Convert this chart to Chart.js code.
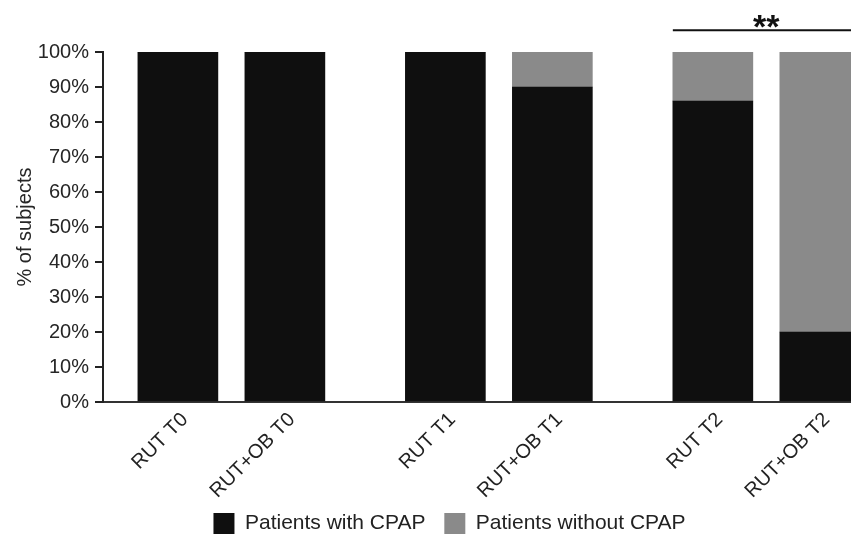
<!DOCTYPE html>
<html>
<head>
<meta charset="utf-8">
<script src="https://cdn.jsdelivr.net/npm/chart.js@4/dist/chart.umd.min.js"></script>
<style>
  html, body { margin: 0; padding: 0; background: #fff; overflow: hidden; }
  #wrap { width: 851px; height: 534px; overflow: hidden; }
</style>
</head>
<body>
<div id="wrap"><canvas id="chart" width="899" height="544"></canvas></div>
<script>
// Chart data
const categories = ['RUT T0', 'RUT+OB T0', 'RUT T1', 'RUT+OB T1', 'RUT T2', 'RUT+OB T2'];
const withCpap = [100, 100, 100, 90, 86, 20];
const withoutCpap = [0, 0, 0, 10, 14, 80];
const yTicks = [0, 10, 20, 30, 40, 50, 60, 70, 80, 90, 100];
const seriesNames = ['Patients with CPAP', 'Patients without CPAP'];

Chart.defaults.font.family = "'Liberation Sans', Arial, Helvetica, sans-serif";
Chart.defaults.font.size = 20;
Chart.defaults.color = '#262626';

// bars come in pairs, a wider gap between the pairs
const slot = i => Math.floor(i / 2) * 5 + (i % 2) * 2;
const toPoints = arr => arr.map((v, i) => ({ x: slot(i), y: v }));

// "**" bracket over the last pair
const significance = {
    id: 'significance',
    afterDatasetsDraw(chart) {
        const { ctx, scales: { x, y } } = chart;
        const x1 = x.getPixelForValue(slot(4)) - 40;
        const x2 = x.getPixelForValue(slot(5)) + 40;
        const yy = y.getPixelForValue(106.2);
        ctx.save();
        ctx.strokeStyle = '#111';
        ctx.lineWidth = 2;
        ctx.beginPath();
        ctx.moveTo(x1, yy);
        ctx.lineTo(x2, yy);
        ctx.stroke();
        ctx.fillStyle = '#111';
        ctx.font = "bold 34px 'Liberation Sans', Arial, sans-serif";
        ctx.textAlign = 'center';
        ctx.textBaseline = 'alphabetic';
        ctx.fillText('**', (x1 + x2) / 2, yy + 8);
        ctx.restore();
    }
};

new Chart(document.getElementById('chart'), {
    type: 'bar',
    data: {
        datasets: [
            {
                label: seriesNames[0] + ' ',
                data: toPoints(withCpap),
                backgroundColor: '#0f0f0f',
                barThickness: 80
            },
            {
                label: seriesNames[1],
                data: toPoints(withoutCpap),
                backgroundColor: '#8a8a8a',
                barThickness: 80
            }
        ]
    },
    options: {
        responsive: false,
        animation: false,
        layout: {
            padding: { top: 52, left: 0, right: 0, bottom: 0 }
        },
        plugins: {
            legend: {
                position: 'bottom',
                labels: {
                    boxWidth: 21,
                    boxHeight: 21,
                    padding: 13,
                    color: '#222',
                    font: { size: 21 }
                }
            },
            tooltip: { enabled: false }
        },
        scales: {
            x: {
                type: 'linear',
                stacked: true,
                offset: false,
                min: -1.4,
                max: 13.48,
                grid: { display: false },
                border: { display: true, color: '#333', width: 2 },
                afterBuildTicks: scale => {
                    scale.ticks = categories.map((c, i) => ({ value: slot(i) }));
                },
                afterFit: scale => { scale.height = 98; },
                ticks: {
                    autoSkip: false,
                    minRotation: 45,
                    maxRotation: 45,
                    padding: -2,
                    labelOffset: 7,
                    color: '#222',
                    callback: (value, index) => categories[index]
                }
            },
            y: {
                stacked: true,
                min: 0,
                max: 100,
                afterBuildTicks: scale => {
                    scale.ticks = yTicks.map(v => ({ value: v }));
                },
                afterFit: scale => { scale.width = 103; },
                grid: {
                    drawOnChartArea: false,
                    color: '#222',
                    lineWidth: 2,
                    tickLength: 8
                },
                border: { display: true, color: '#222', width: 2 },
                ticks: {
                    padding: 6,
                    color: '#262626',
                    callback: v => v + '%'
                },
                title: {
                    display: true,
                    text: '% of subjects',
                    color: '#262626',
                    padding: { top: 13, bottom: 0 }
                }
            }
        }
    },
    plugins: [significance]
});
</script>
</body>
</html>
